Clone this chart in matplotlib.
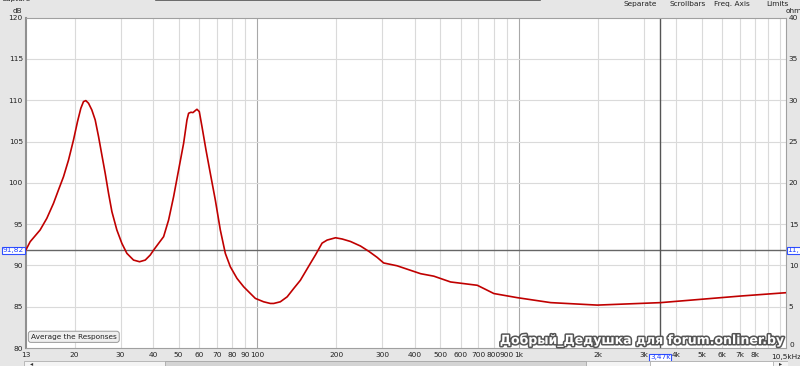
import matplotlib.pyplot as plt
import matplotlib.patheffects as pe
from matplotlib.ticker import FixedLocator, NullLocator

# frequency response (Hz, dB)
freq = [13, 13.53, 14.77, 15.67, 16.62, 17.36, 18.15, 18.97, 19.82, 20.53, 21.14, 21.64,
        22.09, 22.62, 23.29, 23.99, 24.71, 25.44, 26.20, 26.98, 27.79, 29.03, 30.34,
        31.71, 33.62, 35.45, 37.27, 38.95, 40.12, 41.92, 43.81, 45.78, 47.84, 49.99,
        52.25, 53.81, 54.60, 55.74, 56.73, 57.90, 58.76, 59.98, 61.42, 63.62, 66.09,
        69.07, 72.18, 75.43, 78.83, 83.59, 88.64, 94.01, 98.25, 105.7, 112.1, 115.5,
        122.4, 130, 137.8, 146, 152.7, 159.5, 166.7, 176.8, 184.8, 199, 211, 227,
        247.9, 267, 287, 304, 342, 421, 473, 548, 653, 693, 735, 802, 986, 1323,
        1994, 3485, 4960, 7055, 10500]
spl = [91.8, 92.87, 94.29, 95.70, 97.52, 99.13, 100.74, 102.76, 105.19, 107.41, 109.02, 109.83,
       109.95, 109.63, 108.82, 107.61, 105.59, 103.37, 101.15, 98.73, 96.51, 94.29, 92.67,
       91.46, 90.65, 90.45, 90.65, 91.26, 91.86, 92.67, 93.48, 95.50, 98.32, 101.55,
       104.78, 107.61, 108.42, 108.54, 108.50, 108.74, 108.90, 108.62, 106.80, 103.98, 101.15,
       97.92, 94.29, 91.46, 89.84, 88.43, 87.42, 86.61, 86.01, 85.60, 85.40, 85.4,
       85.6, 86.2, 87.22, 88.2, 89.24, 90.25, 91.26, 92.7, 93.07, 93.35, 93.2, 92.9,
       92.35, 91.7, 90.98, 90.3, 89.96, 89.0, 88.7, 88.0, 87.7, 87.6, 87.2, 86.6, 86.1, 85.5,
       85.2, 85.5, 85.9, 86.3, 86.7]

x_ticks = [13, 20, 30, 40, 50, 60, 70, 80, 90, 100, 200, 300, 400, 500, 600, 700,
           800, 900, 1000, 2000, 3000, 4000, 5000, 6000, 7000, 8000]
x_labels = ['13', '20', '30', '40', '50', '60', '70', '80', '90', '100', '200', '300',
            '400', '500', '600', '700', '800', '900', '1k', '2k', '3k', '4k', '5k',
            '6k', '7k', '8k']
db_ticks = [80, 85, 90, 95, 100, 105, 110, 115, 120]
ohm_ticks = [5, 10, 15, 20, 25, 30, 35, 40]
cursor_f = 3470
cursor_db = 91.82

fig = plt.figure(figsize=(8, 3.66), dpi=100)
fig.patch.set_facecolor('#e6e6e6')
ax = fig.add_axes([0.032, 0.049, 0.9505, 0.903])
ax.set_facecolor('white')
ax.set_xscale('log')
ax.set_xlim(13, 10500)
ax.set_ylim(80, 120)

grid_f = [f * d for d in (10, 100, 1000) for f in range(1, 10)] + [10000]
for f in grid_f:
    if f < 13 or f > 10500:
        continue
    c = '#a8a8a8' if f in (100, 1000) else '#dadada'
    ax.axvline(f, color=c, lw=0.8, zorder=0)
for y in db_ticks[1:-1]:
    ax.axhline(y, color='#dadada', lw=0.8, zorder=0)

ax.axhline(cursor_db, color='#666666', lw=1.0, zorder=1)
ax.axvline(cursor_f, color='#555555', lw=1.0, zorder=1)

ax.plot(freq, spl, color='#c00000', lw=1.2, zorder=3)

fs = 5.3
ax.xaxis.set_major_locator(FixedLocator(x_ticks))
ax.xaxis.set_minor_locator(NullLocator())
ax.set_xticklabels(x_labels)
ax.tick_params(axis='x', length=0, labelsize=fs, pad=3, colors='#222222')
ax.set_yticks(db_ticks)
ax.tick_params(axis='y', length=0, labelsize=fs, pad=2, colors='#222222')
for s in ax.spines.values():
    s.set_color('#a0a0a0')
ax.spines['left'].set_linewidth(1.5)
ax.spines['left'].set_color('#909090')

ax2 = ax.twinx()
ax2.set_ylim(0, 40)
ax2.set_yticks(ohm_ticks)
ax2.tick_params(axis='y', length=0, labelsize=fs, pad=2, colors='#222222')
for s in ax2.spines.values():
    s.set_visible(False)
ax2.text(1.004, 0.0, '0', transform=ax.transAxes, fontsize=fs, ha='left', va='bottom', color='#222222')

fig.text(0.028, 0.962, 'dB', fontsize=fs, ha='right', va='bottom', color='#222222')
fig.text(0.982, 0.962, 'ohm', fontsize=fs, ha='left', va='bottom', color='#222222')
fig.text(0.002, 1.002, 'Capture', fontsize=fs, ha='left', va='center', color='#222222')
fig.text(0.8, 0.99, 'Separate', fontsize=fs, ha='center', va='center', color='#222222')
fig.text(0.86, 0.99, 'Scrollbars', fontsize=fs, ha='center', va='center', color='#222222')
fig.text(0.915, 0.99, 'Freq. Axis', fontsize=fs, ha='center', va='center', color='#222222')
fig.text(0.972, 0.99, 'Limits', fontsize=fs, ha='center', va='center', color='#222222')
fig.add_artist(plt.Line2D([0.195, 0.675], [0.999, 0.999], color='#555555', lw=1.2))

# cursor value boxes
box = dict(boxstyle='square,pad=0.1', fc='white', ec='#3050ff', lw=0.8)
ax.text(-0.002, cursor_db, '91,82', transform=ax.get_yaxis_transform(), fontsize=fs,
        ha='right', va='center', color='#2040ff', bbox=box)
ax.text(1.002, cursor_db, '11,7', transform=ax.get_yaxis_transform(), fontsize=fs,
        ha='left', va='center', color='#2040ff', bbox=box)
ax.text(cursor_f, -0.028, '3,47k', transform=ax.get_xaxis_transform(), fontsize=fs,
        ha='center', va='center', color='#2040ff', bbox=box)
ax.text(1.0, -0.028, '10,5kHz', transform=ax.transAxes, fontsize=fs,
        ha='center', va='center', color='#222222')

ax.text(0.007, 0.025, 'Average the Responses', transform=ax.transAxes, fontsize=fs,
        ha='left', va='bottom', color='#222222',
        bbox=dict(boxstyle='round,pad=0.35', fc='#efefef', ec='#999999', lw=0.7))

fig.text(0.802, 0.052, 'Добрый_Дедушка для forum.onliner.by', fontsize=9, weight='bold',
         ha='center', va='bottom', color='white',
         path_effects=[pe.withStroke(linewidth=2.2, foreground='#555555')])

# bottom scrollbar
sb = fig.add_axes([0.03, 0.0, 0.955, 0.015])
sb.set_xlim(0, 1)
sb.set_ylim(0, 1)
sb.axis('off')
sb.add_patch(plt.Rectangle((0.0, 0), 1, 1, fc='#f4f4f4', ec='#b0b0b0', lw=0.6))
sb.add_patch(plt.Rectangle((0.185, 0.05), 0.55, 0.9, fc='#d4d4d4', ec='#a8a8a8', lw=0.6))
sb.add_patch(plt.Rectangle((0.82, 0.05), 0.16, 0.9, fc='white', ec='#b0b0b0', lw=0.6))
sb.text(0.01, 0.5, '◂', fontsize=4.5, ha='center', va='center', color='#333333')
sb.text(0.99, 0.5, '▸', fontsize=4.5, ha='center', va='center', color='#333333')

fig.savefig('out.png', dpi=100, facecolor=fig.get_facecolor())
